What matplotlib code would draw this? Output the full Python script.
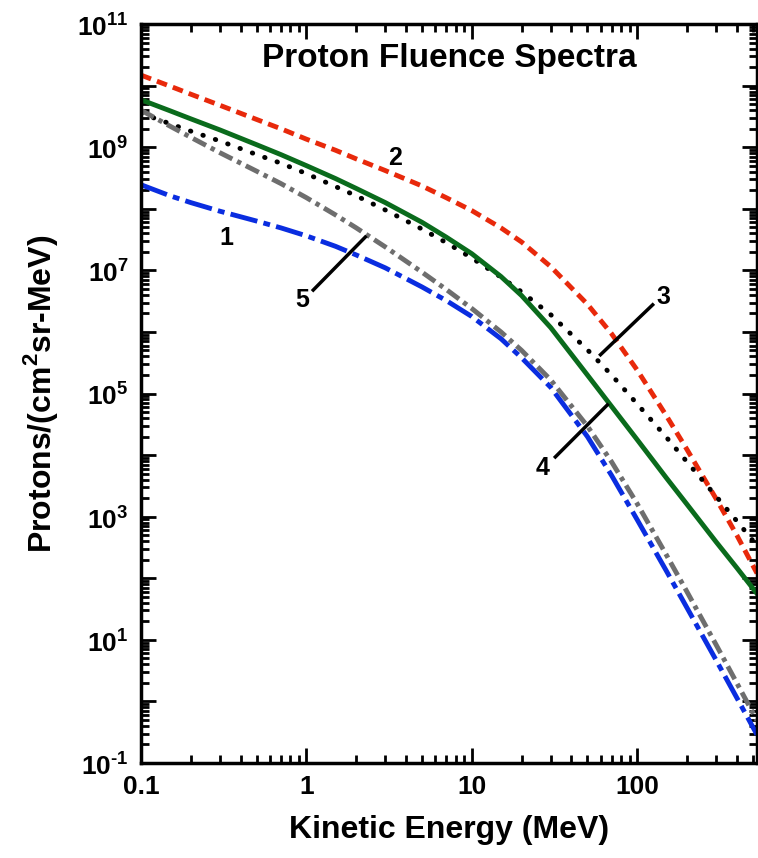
import numpy as np
import matplotlib
matplotlib.use("Agg")
import matplotlib.pyplot as plt
from matplotlib.ticker import LogLocator, FixedLocator, NullFormatter

plt.rcParams["font.family"] = "Liberation Sans"
plt.rcParams["font.weight"] = "bold"
plt.rcParams["mathtext.fontset"] = "custom"
plt.rcParams["mathtext.rm"] = "Liberation Sans:bold"
plt.rcParams["mathtext.bf"] = "Liberation Sans:bold"
plt.rcParams["axes.unicode_minus"] = False

# kinetic energy grid (MeV) and log10 fluence per curve
energy = [0.1, 0.15, 0.2, 0.3, 0.5, 0.7, 1, 1.5, 2, 3, 5, 7, 10, 15, 20, 30,
          50, 70, 100, 150, 200, 300, 400, 530]
f1 = [8.39, 8.21, 8.10, 7.96, 7.80, 7.69, 7.56, 7.39, 7.25, 7.04, 6.73, 6.51,
      6.25, 5.89, 5.58, 5.10, 4.30, 3.67, 2.95, 2.12, 1.52, 0.67, 0.06, -0.54]
f2 = [10.17, 9.99, 9.86, 9.68, 9.45, 9.30, 9.13, 8.95, 8.81, 8.62, 8.37, 8.18,
      7.97, 7.69, 7.46, 7.06, 6.45, 5.97, 5.38, 4.64, 4.09, 3.29, 2.70, 2.08]
f3 = [9.55, 9.38, 9.26, 9.10, 8.88, 8.74, 8.57, 8.36, 8.21, 7.98, 7.67, 7.45,
      7.20, 6.89, 6.65, 6.28, 5.71, 5.30, 4.83, 4.29, 3.89, 3.33, 2.93, 2.53]
f4 = [9.77, 9.59, 9.46, 9.28, 9.04, 8.88, 8.70, 8.49, 8.33, 8.10, 7.78, 7.54,
      7.27, 6.90, 6.59, 6.07, 5.30, 4.79, 4.25, 3.63, 3.20, 2.59, 2.17, 1.75]
f5 = [9.60, 9.34, 9.16, 8.91, 8.61, 8.41, 8.18, 7.90, 7.69, 7.38, 6.97, 6.69,
      6.38, 6.00, 5.70, 5.22, 4.47, 3.89, 3.21, 2.38, 1.78, 0.92, 0.30, -0.31]

fig = plt.figure(figsize=(7.58, 8.58), dpi=100)
ax = fig.add_axes([141 / 758, 1 - 763 / 858, 616 / 758, 739 / 858])

lw = 3.5
ax.plot(energy, 10 ** np.array(f1), color="#0a2de0", lw=lw,
        dashes=(5.7, 1.3, 1.4, 1.3))
ax.plot(energy, 10 ** np.array(f2), color="#e8290b", lw=lw, dashes=(2.2, 1.3))
ax.plot(energy, 10 ** np.array(f3), color="black", lw=lw, dashes=(0.1, 2.6),
        dash_capstyle="round")
ax.plot(energy, 10 ** np.array(f4), color="#0a6b1c", lw=lw)
ax.plot(energy, 10 ** np.array(f5), color="#6e6e6e", lw=lw,
        dashes=(3.0, 1.1, 0.9, 1.1))

ax.set_xscale("log")
ax.set_yscale("log")
ax.set_xlim(0.1, 530)
ax.set_ylim(0.1, 1e11)

ax.xaxis.set_major_locator(FixedLocator([0.1, 1, 10, 100]))
ax.set_xticklabels(["0.1", "1", "10", "100"])
ax.xaxis.set_minor_locator(LogLocator(base=10, subs=np.arange(2, 10)))
ax.xaxis.set_minor_formatter(NullFormatter())


def ylab(d):
    if d % 2 == 0:
        return ""
    if d < 0:
        return r"$10^{\text{-}%d}$" % -d
    return r"$10^{%d}$" % d


ydec = np.arange(-1, 12)
ax.yaxis.set_major_locator(FixedLocator(10.0 ** ydec))
ax.set_yticklabels([ylab(d) for d in ydec])
ax.yaxis.set_minor_locator(LogLocator(base=10, subs=np.arange(2, 10), numticks=20))
ax.yaxis.set_minor_formatter(NullFormatter())

ax.tick_params(which="both", direction="in", top=True, right=True, width=2)
ax.tick_params(which="major", length=11, labelsize=19, pad=9)
ax.tick_params(which="minor", length=6)
for s in ax.spines.values():
    s.set_linewidth(2.5)

ax.set_xlabel("Kinetic Energy (MeV)", fontsize=23, fontweight="bold", labelpad=11)
ax.set_ylabel(r"Protons/(cm$^{2}$sr-MeV)", fontsize=23, fontweight="bold", labelpad=12)
ax.text(0.5, 0.953, "Proton Fluence Spectra", transform=ax.transAxes,
        ha="center", va="center", fontsize=24, fontweight="bold")

# curve labels with leader lines
lab_kw = dict(fontsize=18, fontweight="bold", ha="center", va="center")
ax.text(0.33, 3.4e7, "1", **lab_kw)
ax.text(3.45, 6.7e8, "2", **lab_kw)
ax.text(144.5, 10 ** 6.57, "3", **lab_kw)
ax.plot([60, 124], [10 ** 5.63, 10 ** 6.44], color="black", lw=2.5)
ax.text(26.8, 10 ** 3.79, "4", **lab_kw)
ax.plot([32, 66], [10 ** 3.97, 10 ** 4.815], color="black", lw=2.5)
ax.text(0.946, 10 ** 6.52, "5", **lab_kw)
ax.plot([1.10, 2.27], [10 ** 6.68, 10 ** 7.54], color="black", lw=2.5)

fig.savefig("out.png", dpi=100)
